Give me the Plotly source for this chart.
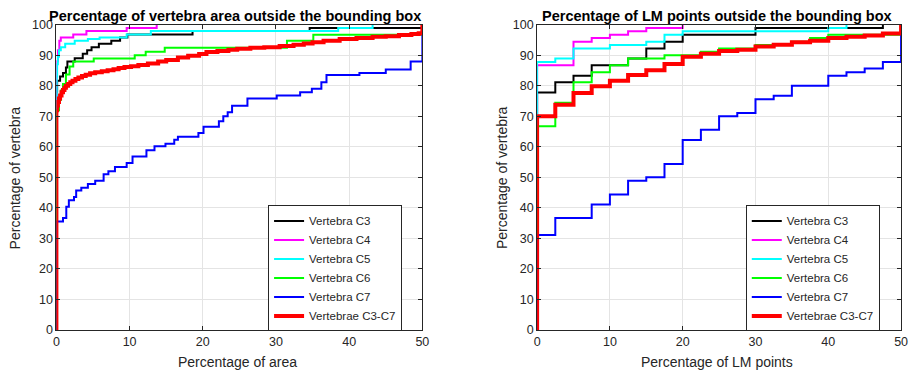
import plotly.graph_objects as go

# ---------------- DATA ----------------
series_names = ["Vertebra C3", "Vertebra C4", "Vertebra C5", "Vertebra C6", "Vertebra C7", "Vertebrae C3-C7"]
series_colors = ["#000000", "#ff00ff", "#00ffff", "#00ff00", "#0000ff", "#ff0000"]
series_widths = [2, 2, 2, 2, 2, 4]

x_ticks = [0, 10, 20, 30, 40, 50]
y_ticks = [0, 10, 20, 30, 40, 50, 60, 70, 80, 90, 100]

# Left panel: percentage of vertebra area outside the bounding box
area_c3_x = [0, 0, 0.1, 0.5, 0.9, 1.3, 1.5, 2.5, 3.6, 4.2, 4.8, 5.8, 7.5, 8.7, 9.7, 18.6, 34.6, 50]
area_c3_y = [0, 78, 81.6, 83, 84.2, 86, 87.9, 89, 90.5, 91.6, 92.6, 93.7, 94.7, 95.8, 96.8, 97.9, 98.9, 100]

area_c4_x = [0, 0, 0.2, 0.4, 0.6, 2.3, 4.1, 9.6, 13.7]
area_c4_y = [0, 88, 91.6, 94.7, 95.8, 96.8, 97.9, 98.9, 100]

area_c5_x = [0, 0, 0.05, 0.1, 0.2, 0.35, 0.6, 1.2, 2.5, 4.3, 5.9, 9.6, 12.9, 38.5, 43.2]
area_c5_y = [0, 76, 83, 87, 89.5, 91.6, 92.6, 93.7, 94.7, 95.3, 95.8, 96.8, 97.9, 98.9, 100]

area_c6_x = [0, 0, 0.35, 0.6, 0.9, 1.3, 1.8, 2.3, 5.1, 10.7, 12.2, 14.8, 31.5, 35.1, 50]
area_c6_y = [0, 72, 75.3, 78.4, 80.6, 83.7, 86.3, 87.9, 88.9, 90.0, 91.1, 92.4, 94.7, 96.7, 100]

area_c7_x = [0, 0, 0.9, 1.35, 1.7, 2.4, 2.7, 3.4, 4.3, 5.3, 6.45, 7.1, 8.0, 9.6, 10.4, 12.3, 13.4,
             14.9, 16.1, 16.6, 19.4, 20.1, 22.2, 22.8, 23.4, 24.0, 26.1, 30.1, 33.3, 34.9, 36.2,
             36.9, 41.4, 45.0, 48.4, 50]
area_c7_y = [0, 35.5, 36.7, 40.4, 42.5, 43.6, 45.7, 46.6, 47.8, 48.9, 51.0, 52.0, 53.4, 54.7, 56.8, 58.9, 60.2,
             61.0, 62.3, 63.3, 64.5, 66.6, 68.4, 70.0, 71.3, 73.4, 75.8, 76.8, 77.9, 79.0, 81.1,
             83.5, 84.2, 85.3, 87.9, 100]

area_all_x = [0, 0, 0.1, 0.2, 0.35, 0.5, 0.7, 0.9, 1.1, 1.3, 1.6, 1.9, 2.2, 2.6, 3.0, 3.5, 4.0, 4.6, 5.3,
              6.2, 7.0, 7.8, 8.5, 9.3, 10.2, 11.2, 12.5, 13.9, 15.0, 16.6, 18.0, 19.5, 20.5, 22.0,
              23.5, 24.7, 26.5, 28.4, 30.5, 32.4, 33.8, 35.0, 36.5, 38.7, 41.0, 43.2, 45.0, 46.8,
              48.5, 49.5, 50]
area_all_y = [0, 72, 73.5, 74.7, 75.8, 76.8, 77.9, 78.6, 79.3, 80.0, 80.6, 81.1, 81.6, 82.2, 82.7, 83.2, 83.6, 84.1, 84.4,
              84.7, 85.1, 85.4, 85.8, 86.1, 86.4, 86.8, 87.3, 87.9, 88.4, 89.2, 89.8, 90.4, 91.0, 91.4,
              91.8, 92.1, 92.4, 92.6, 93.0, 93.4, 93.8, 94.2, 94.7, 95.3, 95.6, 96.0, 96.2, 96.6,
              96.9, 97.2, 100]

# Right panel: percentage of LM points outside the bounding box
lm_c3_x = [0, 0, 2.5, 5, 7.5, 12.5, 15, 17.5, 20, 30, 47.5]
lm_c3_y = [0, 77.8, 81.1, 83.3, 86.7, 88.9, 92.2, 94.4, 96.7, 98.9, 100]

lm_c4_x = [0, 0, 5, 7.5, 10, 12.5, 15, 20]
lm_c4_y = [0, 86.7, 94.4, 95.6, 96.7, 97.8, 98.9, 100]

lm_c5_x = [0, 0, 2.5, 5, 10, 15, 17.5, 20, 40, 42.5]
lm_c5_y = [0, 87.8, 88.9, 92.2, 93.3, 94.4, 96.7, 97.8, 98.9, 100]

lm_c6_x = [0, 0, 2.5, 5, 7.5, 10, 12.5, 17.5, 22.5, 25, 30, 35, 37.5, 40, 50]
lm_c6_y = [0, 66.7, 74.4, 81.1, 84.4, 86.7, 88.9, 90.0, 91.1, 92.2, 93.3, 94.4, 95.6, 96.7, 100]

lm_c7_x = [0, 0, 2.5, 7.5, 10, 12.5, 15, 17.5, 20, 22.5, 25, 27.5, 30, 32.5, 35, 40, 42.5, 45, 47.5, 50]
lm_c7_y = [0, 31.1, 36.7, 41.1, 44.4, 48.9, 50.0, 54.4, 62.2, 65.6, 70.0, 71.1, 75.6, 76.7, 80.0, 83.3, 84.4, 85.6, 87.8, 100]

lm_all_x = [0, 0, 2.5, 5, 7.5, 10, 12.5, 15, 17.5, 20, 22.5, 25, 27.5, 30, 32.5, 35, 37.5, 40, 42.5, 45, 47.5, 50]
lm_all_y = [0, 70.0, 73.8, 77.6, 79.8, 81.6, 83.5, 85.1, 87.1, 89.5, 90.5, 91.4, 91.8, 92.8, 93.4, 94.2, 94.7, 95.6, 96.0, 96.4, 97.1, 100]

left_title = "Percentage of vertebra area outside the bounding box"
right_title = "Percentage of LM points outside the bounding box"
left_xlabel = "Percentage of area"
right_xlabel = "Percentage of LM points"
ylabel = "Percentage of vertebra"

left_series = [(area_c3_x, area_c3_y), (area_c4_x, area_c4_y), (area_c5_x, area_c5_y),
               (area_c6_x, area_c6_y), (area_c7_x, area_c7_y), (area_all_x, area_all_y)]
right_series = [(lm_c3_x, lm_c3_y), (lm_c4_x, lm_c4_y), (lm_c5_x, lm_c5_y),
                (lm_c6_x, lm_c6_y), (lm_c7_x, lm_c7_y), (lm_all_x, lm_all_y)]

# ---------------- FIGURE ----------------
W, H = 915, 383
FONT = "Liberation Sans, Arial, Helvetica, sans-serif"
TXT = "#262626"

fig = go.Figure()

for i, (xs, ys) in enumerate(left_series):
    fig.add_trace(go.Scatter(x=xs, y=ys, mode="lines", line_shape="hv",
                             line=dict(color=series_colors[i], width=series_widths[i]),
                             name=series_names[i], xaxis="x", yaxis="y", legend="legend"))
for i, (xs, ys) in enumerate(right_series):
    fig.add_trace(go.Scatter(x=xs, y=ys, mode="lines", line_shape="hv",
                             line=dict(color=series_colors[i], width=series_widths[i]),
                             name=series_names[i], xaxis="x2", yaxis="y2", legend="legend2"))

def px_x(p):
    return p / W

def px_y(p):
    return (H - p) / H

y_dom = [px_y(335.3), px_y(18.3)]

axis_common = dict(showline=True, linecolor=TXT, linewidth=1, mirror="ticks",
                   ticks="inside", ticklen=4, tickcolor=TXT, showgrid=True,
                   gridcolor="#e4e4e4", gridwidth=1, zeroline=False,
                   tickfont=dict(family=FONT, size=12.5, color=TXT))

legend_common = dict(xanchor="left", yanchor="top", bgcolor="white", bordercolor=TXT, borderwidth=1,
                     font=dict(family=FONT, size=11.5, color=TXT), itemwidth=30, tracegroupgap=0)

fig.update_layout(
    width=W, height=H,
    margin=dict(l=0, r=0, t=0, b=0),
    paper_bgcolor="white", plot_bgcolor="white",
    showlegend=True,
    xaxis=dict(domain=[px_x(54), px_x(424)], range=[0, 50], tickvals=x_ticks, anchor="y", **axis_common),
    yaxis=dict(domain=y_dom, range=[0, 100], tickvals=y_ticks, anchor="x", **axis_common),
    xaxis2=dict(domain=[px_x(540), px_x(908)], range=[0, 50], tickvals=x_ticks, anchor="y2", **axis_common),
    yaxis2=dict(domain=y_dom, range=[0, 100], tickvals=y_ticks, anchor="x2", **axis_common),
    legend=dict(x=px_x(268), y=px_y(206), **legend_common),
    legend2=dict(x=px_x(751), y=px_y(206), **legend_common),
)

annotations = [
    dict(text="<b>" + left_title + "</b>", x=px_x(235), y=px_y(9), xref="paper", yref="paper",
         showarrow=False, xanchor="center", yanchor="middle", font=dict(family=FONT, size=14.5, color="#000000")),
    dict(text="<b>" + right_title + "</b>", x=px_x(722), y=px_y(9), xref="paper", yref="paper",
         showarrow=False, xanchor="center", yanchor="middle", font=dict(family=FONT, size=14.5, color="#000000")),
    dict(text=left_xlabel, x=px_x(237), y=px_y(368), xref="paper", yref="paper",
         showarrow=False, xanchor="center", yanchor="middle", font=dict(family=FONT, size=14, color=TXT)),
    dict(text=right_xlabel, x=px_x(722), y=px_y(368), xref="paper", yref="paper",
         showarrow=False, xanchor="center", yanchor="middle", font=dict(family=FONT, size=14, color=TXT)),
    dict(text=ylabel, x=px_x(12), y=px_y(177), xref="paper", yref="paper", textangle=-90,
         showarrow=False, xanchor="center", yanchor="middle", font=dict(family=FONT, size=14, color=TXT)),
    dict(text=ylabel, x=px_x(504), y=px_y(177), xref="paper", yref="paper", textangle=-90,
         showarrow=False, xanchor="center", yanchor="middle", font=dict(family=FONT, size=14, color=TXT)),
]
fig.update_layout(annotations=annotations)

# place the figure at the window's top-left corner (no default page margin, no scrollbars)
page_fix = (
    "var de=document.documentElement, b=document.body;"
    "de.style.margin='0'; de.style.padding='0'; de.style.overflow='hidden';"
    "b.style.margin='0'; b.style.padding='0'; b.style.overflow='hidden';"
    "var g=document.getElementsByClassName('plotly-graph-div')[0];"
    "g.style.position='fixed'; g.style.left='0px'; g.style.top='0px';"
)

fig.write_html("out.html", config={"displayModeBar": False}, post_script=page_fix)
